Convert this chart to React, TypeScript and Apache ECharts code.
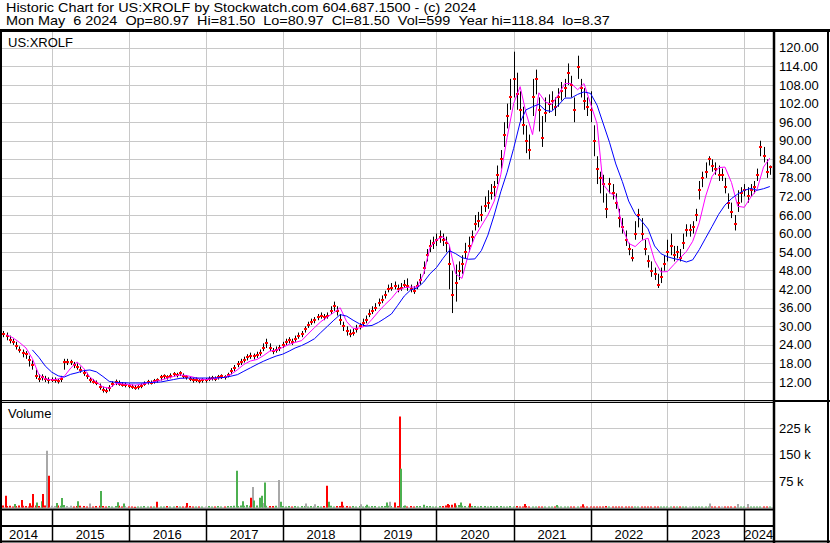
import React, { useEffect, useRef } from 'react';
import * as echarts from 'echarts';

const FONT = 'Arial, "Liberation Sans", Helvetica, sans-serif';

const titleLine = 'Historic Chart for US:XROLF by Stockwatch.com 604.687.1500 - (c) 2024';
const quoteLine = 'Mon May\u00a0\u00a06 2024\u00a0\u00a0Op=80.97\u00a0\u00a0Hi=81.50\u00a0\u00a0Lo=80.97\u00a0\u00a0Cl=81.50\u00a0\u00a0Vol=599\u00a0\u00a0Year hi=118.84\u00a0\u00a0lo=8.37';
const symbolLabel = 'US:XROLF';
const volumeLabel = 'Volume';

const xMin = '2014-05-10';
const xMax = '2024-05-16';

const yearStarts = ['2015-01-01', '2016-01-01', '2017-01-01', '2018-01-01', '2019-01-01', '2020-01-01', '2021-01-01', '2022-01-01', '2023-01-01', '2024-01-01'];
const yearNames = ['2014', '2015', '2016', '2017', '2018', '2019', '2020', '2021', '2022', '2023', '2024'];
const yearLabelDates = ['2014-08-20', '2015-07-02', '2016-07-02', '2017-07-02', '2018-07-02', '2019-07-02', '2020-07-02', '2021-07-02', '2022-07-02', '2023-07-02', '2024-03-09'];

const priceTicks = [12, 18, 24, 30, 36, 42, 48, 54, 60, 66, 72, 78, 84, 90, 96, 102, 108, 114, 120];
const volumeTicks = [75000, 150000, 225000];
const volumeTickLabels = ['75 k', '150 k', '225 k'];

// semi-monthly bars: [high, low, close]
const p2014 = [[28.5, 26.5, 27.5], [28, 25.5, 27], [27, 24.5, 25.5], [26, 24, 25], [25, 22.5, 23.5], [23.5, 21.5, 22.5], [22.5, 20, 21.5], [22, 19.5, 21], [20.5, 17, 19], [19, 16, 17.5], [16, 13, 14], [14.5, 12, 13], [14.5, 12.5, 13.5], [14, 12, 13], [13.5, 11.5, 12.5]];
const p2015 = [[13.5, 12, 12.5], [13.5, 11.8, 12.5], [13, 11.5, 12.2], [14, 12, 13], [19.5, 16, 18.5], [19.5, 17.5, 18.5], [19.2, 17.5, 18.5], [18.5, 16.5, 17.5], [18, 16, 17], [17, 15, 16], [16, 14, 15], [15, 13, 14], [13.5, 11.8, 12.5], [13, 11.5, 12], [12.5, 11, 11.8], [11.5, 9.5, 10.5], [10.5, 8.6, 9.5], [10, 8.4, 9], [11, 9, 10], [12.2, 10.5, 11.5], [12.8, 11, 12], [12.5, 10.8, 11.5], [12, 10.5, 11], [11.8, 10.3, 11]];
const p2016 = [[11.5, 10, 10.8], [11.2, 9.8, 10.5], [11, 9.5, 10], [11, 9.6, 10.3], [11.5, 10, 10.8], [12.2, 10.8, 11.5], [12.7, 11.2, 12], [12.5, 11.2, 11.8], [13, 11.5, 12.2], [13.2, 11.8, 12.5], [14.3, 12.5, 13.5], [14.5, 13, 13.8], [14.2, 12.8, 13.5], [14.8, 13.2, 14], [15.2, 13.8, 14.5], [15, 13.5, 14.2], [15.5, 14, 14.8], [14.8, 13.2, 14], [14.2, 12.8, 13.5], [13.8, 12.3, 13], [13.3, 11.8, 12.5], [13.5, 12, 12.8], [13, 11.6, 12.3], [13.2, 11.8, 12.5]];
const p2017 = [[13.3, 11.8, 12.5], [13.8, 12.3, 13], [14, 12.5, 13.2], [13.8, 12.3, 13], [14.3, 12.8, 13.5], [14.5, 13, 13.8], [14.2, 12.8, 13.5], [15, 13.5, 14.2], [16.5, 14.5, 15.5], [17.5, 15.5, 16.5], [18.8, 16.8, 17.8], [19.5, 17.5, 18.5], [20.2, 18.3, 19.2], [21, 19, 20], [21.5, 19.5, 20.5], [21.2, 19.3, 20.3], [21.8, 19.8, 20.8], [22.5, 20.5, 21.5], [24.5, 22, 23], [26, 23, 24.5], [24.5, 22, 23], [23, 21, 22], [23.5, 21.5, 22.5], [24, 22, 23]];
const p2018 = [[25, 23, 24], [26, 24, 25], [26.5, 24.5, 25.5], [26, 24, 25], [27, 25, 26], [28, 26, 27], [28.5, 26.5, 27.5], [30, 28, 29], [31.5, 29.5, 30.5], [32.5, 30.5, 31.5], [33, 31, 32], [34, 32, 33], [34.5, 32.5, 33.5], [34, 32, 33], [34.5, 32.5, 33.5], [36.5, 34, 35], [38, 35, 36.5], [36.5, 33.5, 35], [34, 30.5, 32], [31.5, 28.5, 30], [30, 27, 28.5], [29, 26.5, 27.5], [29.5, 27, 28], [30.5, 28, 29]];
const p2019 = [[31, 29, 30], [32.5, 30, 31], [33.5, 31, 32], [35.5, 33, 34], [36.5, 34, 35], [37.5, 35, 36], [39, 36.5, 37.5], [40, 37.5, 38.5], [41.5, 39, 40], [43.5, 41, 42], [44, 41.5, 42.5], [44.5, 42, 43], [43.5, 41, 42], [44, 41.5, 42.5], [45, 42.5, 43.5], [45.5, 41.5, 43], [43.5, 41, 42], [43, 40.5, 41.5], [44.5, 42, 43], [47, 43.5, 45], [51, 47, 49], [55, 51, 53], [58, 54, 56], [59, 55, 57]];
const p2020 = [[60, 56, 58], [61, 57, 59], [60, 56, 58], [59, 54, 57], [56, 42, 50], [48, 34.3, 40], [50, 38, 44], [51, 45, 48], [53, 47, 50], [57, 52, 54], [59, 54, 56], [61, 57, 59], [66, 61, 63], [67, 62, 64], [69, 64, 66], [72, 67, 69], [74, 68, 70], [76, 71, 73], [77, 72, 75], [82, 76, 79], [87, 81, 84], [96, 88, 92], [102, 94, 98], [110, 100, 104]];
const p2021 = [[118.8, 104, 110], [112, 100, 105], [106, 96, 100], [101, 92, 95], [95, 86, 90], [92, 84, 87], [110, 98, 104], [113, 105, 110], [104, 93, 100], [98, 88, 91], [104, 96, 99], [105, 99, 102], [106, 100, 103], [104, 98, 101], [107, 101, 104], [109, 103, 106], [110, 104, 107], [115, 108, 112], [111, 104, 108], [104, 96, 100], [117.5, 110, 114], [110, 104, 107], [107, 100, 103], [104, 98, 101]];
const p2022 = [[106, 96, 100], [95, 85, 90], [85, 76, 81], [80, 73, 78], [79, 70, 76], [73, 65, 68], [78, 73, 76], [76, 71, 73], [73, 68, 70], [68, 62, 65], [65, 60, 62], [61, 56, 58], [57, 53, 55], [55, 51, 52], [64, 58, 60], [68, 62, 66], [65, 58, 60], [58, 53, 55], [53, 49, 51], [51, 46, 48], [49, 45, 47], [47, 42.4, 43.5], [49, 44, 46], [53, 48, 50]];
const p2023 = [[58, 51, 54], [60, 53, 56], [56, 51, 53], [56, 52, 54], [55, 51, 52], [60, 55, 57], [63, 59, 61], [63, 59, 61], [64, 60, 62], [68, 64, 66], [77, 71, 74], [80, 75, 78], [83, 78, 80], [85, 82, 84], [84, 80, 82], [83, 79, 81], [82, 77, 79], [81, 77, 79], [78, 73, 75], [73, 68, 70], [70, 65, 67], [66, 61, 63], [74, 67, 70], [75, 70, 73]];
const p2024 = [[76, 72, 74], [75, 70, 72], [76, 72, 74], [77, 73, 75], [81, 77, 79], [90, 85, 88], [88, 83, 85], [84, 78, 80], [82, 79, 81.5]];

// semi-monthly volume (thousands)
const v2014 = [6, 4, 5, 3, 4, 6, 5, 4, 3, 5, 6, 4, 5, 6, 8];
const v2015 = [5, 4, 6, 5, 7, 4, 5, 3, 4, 5, 4, 3, 4, 3, 4, 5, 4, 3, 4, 3, 4, 5, 3, 4];
const v2016 = [3, 3, 2, 3, 3, 4, 3, 3, 3, 4, 3, 3, 4, 3, 3, 4, 3, 3, 3, 4, 3, 3, 3, 3];
const v2017 = [3, 4, 3, 3, 4, 3, 3, 4, 4, 5, 4, 6, 5, 7, 5, 4, 6, 5, 7, 5, 4, 4, 5, 4];
const v2018 = [4, 3, 4, 3, 4, 3, 4, 4, 3, 4, 3, 4, 3, 4, 4, 5, 3, 4, 4, 5, 4, 3, 4, 3];
const v2019 = [4, 3, 4, 3, 4, 4, 3, 4, 4, 5, 4, 4, 4, 3, 4, 3, 4, 3, 4, 4, 3, 4, 4, 3];
const v2020 = [3, 4, 4, 6, 7, 8, 6, 7, 5, 4, 5, 4, 4, 3, 4, 4, 3, 4, 3, 4, 4, 3, 3, 4];
const v2021 = [3, 4, 3, 3, 4, 3, 3, 3, 3, 3, 3, 3, 3, 3, 3, 3, 3, 3, 3, 3, 3, 3, 3, 3];
const v2022 = [3, 3, 3, 3, 3, 4, 3, 3, 3, 3, 3, 3, 3, 3, 3, 3, 3, 3, 3, 3, 3, 3, 3, 3];
const v2023 = [3, 3, 3, 3, 3, 3, 3, 3, 3, 3, 3, 3, 3, 3, 3, 3, 3, 3, 3, 3, 3, 3, 3, 3];
const v2024 = [3, 3, 3, 3, 3, 3, 3, 3, 3];

// notable volume days: date, thousands, colour (0 down, 1 up, 2 unchanged)
const spikeDates = ['2014-05-29', '2014-07-10', '2014-08-13', '2014-09-20', '2014-10-04', '2014-10-25', '2014-11-16', '2014-11-21', '2014-12-08', '2014-12-19', '2015-01-26', '2015-02-19', '2015-05-06', '2015-07-02', '2015-08-23', '2015-11-12', '2015-12-10', '2016-05-15', '2016-10-04', '2017-05-30', '2017-06-27', '2017-08-04', '2017-08-14', '2017-08-19', '2017-09-16', '2017-09-26', '2017-10-05', '2017-10-10', '2017-12-15', '2017-12-24', '2018-04-22', '2018-06-04', '2018-07-31', '2018-08-09', '2018-10-10', '2019-01-08', '2019-02-06', '2019-05-12', '2019-05-26', '2019-06-19', '2019-07-12', '2019-07-17', '2019-08-05', '2019-11-03', '2020-02-25', '2020-03-29', '2020-04-26', '2020-06-08', '2021-02-25', '2021-07-27', '2021-11-27', '2023-07-22', '2023-12-02', '2024-01-18'];
const spikeVolumes = [33, 10, 21, 12, 38, 14, 18, 38, 161, 90, 13, 27, 18, 11, 47, 15, 11, 16, 13, 104, 18, 28, 58, 20, 28, 33, 13, 71, 78, 16, 11, 9, 62, 16, 16, 9, 8, 14, 16, 14, 258, 110, 6, 8, 10, 12, 14, 11, 10, 7, 9, 11, 10, 10];
const spikeColors = [0, 1, 0, 0, 0, 1, 1, 0, 2, 0, 1, 1, 1, 2, 1, 1, 1, 0, 0, 1, 1, 0, 2, 1, 1, 1, 2, 1, 2, 1, 2, 2, 0, 1, 0, 2, 1, 1, 2, 0, 0, 1, 1, 1, 0, 0, 1, 0, 0, 1, 0, 2, 2, 2];

// monthly moving averages (month-start values)
const pink2014 = [27.3, 26.3, 24.8, 23, 19.6, 14.4, 13];
const pink2015 = [12.7, 13, 13.8, 16.5, 18.5, 16.5, 13.6, 12, 10.4, 10, 11.5, 11.4];
const pink2016 = [11.2, 11, 11.3, 11.7, 12.1, 12.6, 13.2, 13.8, 14.3, 14.1, 13.6, 13];
const pink2017 = [12.8, 13, 13.3, 13.5, 14.5, 16, 17.7, 18.8, 19.3, 20.5, 22, 22.3];
const pink2018 = [23.2, 24.2, 24.8, 25.4, 27.5, 29.6, 31.5, 33, 34.5, 36, 31.5, 29.3];
const pink2019 = [29.5, 30.2, 32.3, 34.8, 37, 39, 41.5, 42.5, 42.7, 42.7, 47, 55.5];
const pink2020 = [58, 59, 56.5, 47, 45.5, 53.5, 59, 62.5, 66, 70.5, 79, 91];
const pink2021 = [102, 107.5, 99, 92, 105.5, 102.5, 101.8, 104.8, 108.5, 108.5, 106.5, 108.5];
const pink2022 = [102, 95.5, 76, 73.3, 72, 62, 56.8, 55.8, 57.8, 58.5, 51.3, 47.6];
const pink2023 = [47.7, 50, 52, 54.2, 57.5, 63.5, 72, 78.5, 81.3, 81.5, 76.5, 68.8];
const pink2024 = [68.5, 71.8, 74.2, 81.5, 84.4];

const blue2014 = [22.4, 20, 17.2];
const blue2015 = [15.2, 14, 13.6, 14.5, 15, 15.7, 15.9, 15.3, 13.8, 12.2, 11.9, 11.8];
const blue2016 = [11.7, 11.7, 11.7, 11.8, 11.9, 12, 12.4, 12.8, 13.2, 13.3, 13.3, 13.3];
const blue2017 = [13.3, 13.3, 13.4, 13.5, 13.9, 14.4, 15.5, 16.6, 17.7, 18.7, 19.6, 20.4];
const blue2018 = [21, 22, 23, 23.8, 24.8, 26, 28, 30, 32, 33.8, 33.3, 32];
const blue2019 = [30.8, 30.1, 30.3, 31.3, 32.6, 34, 36.8, 39.8, 41.8, 42.4, 44.3, 47];
const blue2020 = [49, 52, 54.5, 53.5, 52.2, 51.7, 51.8, 54.5, 59.5, 66, 73.5, 79.8];
const blue2021 = [87.5, 96, 100, 101, 101.8, 99.8, 99.5, 101.5, 103.8, 103.8, 105, 105.8];
const blue2022 = [105.3, 101.5, 95.8, 89.5, 82.5, 76.8, 70.5, 66.3, 64, 61.5, 56, 53.5];
const blue2023 = [52.5, 51.9, 51.5, 50.8, 51.5, 54.8, 58.5, 62.3, 66.2, 69.2, 71.3, 72.8];
const blue2024 = [74, 74.6, 74, 74.5, 75.2];

const priceYears: [number, number, number[][], number[]][] = [
  [2014, 9, p2014, v2014], [2015, 0, p2015, v2015], [2016, 0, p2016, v2016], [2017, 0, p2017, v2017],
  [2018, 0, p2018, v2018], [2019, 0, p2019, v2019], [2020, 0, p2020, v2020], [2021, 0, p2021, v2021],
  [2022, 0, p2022, v2022], [2023, 0, p2023, v2023], [2024, 0, p2024, v2024],
];
const pinkYears: [number, number, number[]][] = [
  [2014, 5, pink2014], [2015, 0, pink2015], [2016, 0, pink2016], [2017, 0, pink2017], [2018, 0, pink2018],
  [2019, 0, pink2019], [2020, 0, pink2020], [2021, 0, pink2021], [2022, 0, pink2022], [2023, 0, pink2023], [2024, 0, pink2024],
];
const blueYears: [number, number, number[]][] = [
  [2014, 9, blue2014], [2015, 0, blue2015], [2016, 0, blue2016], [2017, 0, blue2017], [2018, 0, blue2018],
  [2019, 0, blue2019], [2020, 0, blue2020], [2021, 0, blue2021], [2022, 0, blue2022], [2023, 0, blue2023], [2024, 0, blue2024],
];

const pad2 = (n: number) => (n < 10 ? '0' + n : '' + n);
const halfMonthDate = (year: number, half: number) => `${year}-${pad2(Math.floor(half / 2) + 1)}-${half % 2 === 0 ? '01' : '16'}`;
const monthDate = (year: number, m: number) => `${year}-${pad2(m + 1)}-01`;

const VOL_COLORS = ['#ff0000', '#4cb050', '#a8a8a8'];
const GRID_COLOR = '#c8c8c8';

function buildOption() {
  const priceData: any[] = [];
  const volData: any[] = [];
  let prev: number | null = null;
  priceYears.forEach(([yr, start, rows, vols]) => {
    rows.forEach((r, i) => {
      const d = halfMonthDate(yr, start + i);
      priceData.push([d, r[0], r[1], r[2]]);
      const code = prev === null ? 0 : r[2] > prev ? 1 : r[2] < prev ? 0 : 2;
      volData.push([d, vols[i] * 1000, code]);
      prev = r[2];
    });
  });
  const spikeData = spikeDates.map((d, i) => [d, spikeVolumes[i] * 1000, spikeColors[i]]);
  const pinkData: any[] = [];
  pinkYears.forEach(([yr, start, vals]) => vals.forEach((v, i) => pinkData.push([monthDate(yr, start + i), v])));
  const blueData: any[] = [];
  blueYears.forEach(([yr, start, vals]) => vals.forEach((v, i) => blueData.push([monthDate(yr, start + i), v])));
  const boundaryData = yearStarts.map((d) => [d, 0]);
  const yearLabelData = yearLabelDates.map((d) => [d, 0]);

  const gridLineRender = (color: string, width: number) => (params: any, api: any) => {
    const cs = params.coordSys;
    const x = Math.round(api.coord([api.value(0), 0])[0]) + 0.5;
    return {
      type: 'line',
      shape: { x1: x, y1: cs.y, x2: x, y2: cs.y + cs.height },
      style: { stroke: color, lineWidth: width },
    };
  };

  const xAxisBase = {
    type: 'time',
    min: xMin,
    max: xMax,
    axisLabel: { show: false },
    axisLine: { show: false },
    axisTick: { show: false },
    splitLine: { show: false },
  };

  const text = (t: string, x: number, y: number, sx = 1) => ({
    type: 'text',
    x,
    y,
    scaleX: sx,
    z: 100,
    silent: true,
    style: {
      text: t,
      fill: '#000',
      font: `13px ${FONT}`,
      fontSize: 13,
      fontFamily: FONT,
      textAlign: 'left',
      textVerticalAlign: 'middle',
      align: 'left',
      verticalAlign: 'middle',
    },
  });
  const hline = (x1: number, x2: number, y: number, w: number) => ({
    type: 'line', z: 100, silent: true,
    shape: { x1, y1: y, x2, y2: y },
    style: { stroke: '#000', lineWidth: w },
  });
  const vline = (x: number, y1: number, y2: number, w: number) => ({
    type: 'line', z: 100, silent: true,
    shape: { x1: x, y1, x2: x, y2 },
    style: { stroke: '#000', lineWidth: w },
  });

  return {
    animation: false,
    backgroundColor: '#ffffff',
    grid: [
      { left: 2, top: 29.4, width: 771, height: 371.2, outerBoundsMode: 'none', containLabel: false },
      { left: 2, top: 401.7, width: 771, height: 105.8, outerBoundsMode: 'none', containLabel: false },
      { left: 2, top: 509.5, width: 771, height: 32, outerBoundsMode: 'none', containLabel: false },
    ],
    xAxis: [
      { ...xAxisBase, gridIndex: 0 },
      { ...xAxisBase, gridIndex: 1 },
      { ...xAxisBase, gridIndex: 2 },
    ],
    yAxis: [
      {
        type: 'value', gridIndex: 0, position: 'right', min: 6, max: 126, interval: 6,
        axisLine: { show: false }, axisTick: { show: false },
        axisLabel: {
          margin: 6, color: '#000', fontSize: 13, fontFamily: FONT,
          formatter: (v: number) => (priceTicks.indexOf(v) >= 0 ? v.toFixed(2) : ''),
        },
        splitLine: { show: true, lineStyle: { color: GRID_COLOR, width: 1 } },
      },
      {
        type: 'value', gridIndex: 1, position: 'right', min: 0, max: 300000, interval: 75000,
        axisLine: { show: false }, axisTick: { show: false },
        axisLabel: {
          margin: 6, color: '#000', fontSize: 13, fontFamily: FONT,
          formatter: (v: number) => {
            const i = volumeTicks.indexOf(v);
            return i >= 0 ? volumeTickLabels[i] : '';
          },
        },
        splitLine: { show: true, lineStyle: { color: GRID_COLOR, width: 1 } },
      },
      {
        type: 'value', gridIndex: 2, min: 0, max: 1, show: false,
        axisLine: { show: false }, axisTick: { show: false }, axisLabel: { show: false }, splitLine: { show: false },
      },
    ],
    series: [
      {
        type: 'custom', name: 'priceGrid', xAxisIndex: 0, yAxisIndex: 0, z: 1, silent: true,
        data: boundaryData, encode: { x: 0, y: 1 },
        renderItem: gridLineRender(GRID_COLOR, 1),
      },
      {
        type: 'custom', name: 'volGrid', xAxisIndex: 1, yAxisIndex: 1, z: 1, silent: true,
        data: boundaryData, encode: { x: 0, y: 1 },
        renderItem: gridLineRender(GRID_COLOR, 1),
      },
      {
        type: 'custom', name: 'yearDividers', xAxisIndex: 2, yAxisIndex: 2, z: 5, silent: true,
        data: boundaryData, encode: { x: 0, y: 1 },
        renderItem: gridLineRender('#000', 1.5),
      },
      {
        type: 'custom', name: 'yearLabels', xAxisIndex: 2, yAxisIndex: 2, z: 5, silent: true,
        data: yearLabelData, encode: { x: 0, y: 1 },
        renderItem: (params: any, api: any) => {
          const cs = params.coordSys;
          const x = api.coord([api.value(0), 0])[0];
          return {
            type: 'text',
            x,
            y: cs.y + cs.height - 7,
            style: {
              text: yearNames[params.dataIndex],
              fill: '#000',
              font: `13px ${FONT}`,
              textAlign: 'center',
              textVerticalAlign: 'middle',
              align: 'center',
              verticalAlign: 'middle',
            },
          };
        },
      },
      {
        type: 'custom', name: 'Price', xAxisIndex: 0, yAxisIndex: 0, z: 2,
        data: priceData, encode: { x: 0, y: [1, 2, 3] },
        renderItem: (params: any, api: any) => {
          const hi = api.coord([api.value(0), api.value(1)]);
          const lo = api.coord([api.value(0), api.value(2)]);
          const cl = api.coord([api.value(0), api.value(3)]);
          const x = Math.round(hi[0]) + 0.5;
          return {
            type: 'group',
            children: [
              { type: 'line', shape: { x1: x, y1: hi[1], x2: x, y2: lo[1] }, style: { stroke: '#000', lineWidth: 1 } },
              { type: 'rect', shape: { x: Math.round(cl[0]) - 1, y: Math.round(cl[1]) - 1, width: 3, height: 2 }, style: { fill: '#ff0000' } },
            ],
          };
        },
      },
      {
        type: 'line', name: 'MA short', xAxisIndex: 0, yAxisIndex: 0, z: 3,
        data: pinkData, showSymbol: false, symbol: 'none',
        lineStyle: { color: '#ff00ff', width: 1 },
      },
      {
        type: 'line', name: 'MA long', xAxisIndex: 0, yAxisIndex: 0, z: 3,
        data: blueData, showSymbol: false, symbol: 'none',
        lineStyle: { color: '#0000ff', width: 1 },
      },
      ...[volData, spikeData].map((d, k) => ({
        type: 'custom', name: k === 0 ? 'Volume' : 'Volume peaks', xAxisIndex: 1, yAxisIndex: 1, z: 2 + k,
        data: d, encode: { x: 0, y: 1 },
        renderItem: (params: any, api: any) => {
          const base = api.coord([api.value(0), 0]);
          const top = api.coord([api.value(0), api.value(1)]);
          return {
            type: 'rect',
            shape: { x: Math.round(base[0]) - 1, y: top[1], width: 2, height: Math.max(1, base[1] - top[1]) },
            style: { fill: VOL_COLORS[api.value(2)] },
          };
        },
      })),
    ],
    graphic: [
      text(titleLine, 6, 8, 1.11),
      text(quoteLine, 6, 21, 1.11),
      text(symbolLabel, 8, 42),
      text(volumeLabel, 8, 413),
      hline(0, 830, 30.5, 3),
      vline(1, 29, 543, 2),
      vline(828, 29, 543, 2),
      vline(774, 29, 543, 2.5),
      hline(0, 774, 400.5, 1),
      hline(0, 774, 402.5, 1),
      hline(774, 830, 401, 2),
      hline(0, 774, 509.5, 2),
      hline(0, 774, 526, 2),
      hline(0, 830, 541.5, 2),
    ],
  };
}

export default function App() {
  const ref = useRef<HTMLDivElement>(null);
  useEffect(() => {
    document.body.style.margin = '0';
    if (!ref.current) return;
    const chart = echarts.init(ref.current, undefined, { renderer: 'svg' });
    chart.setOption(buildOption() as any);
    return () => chart.dispose();
  }, []);
  return <div ref={ref} style={{ width: 830, height: 543 }} />;
}
